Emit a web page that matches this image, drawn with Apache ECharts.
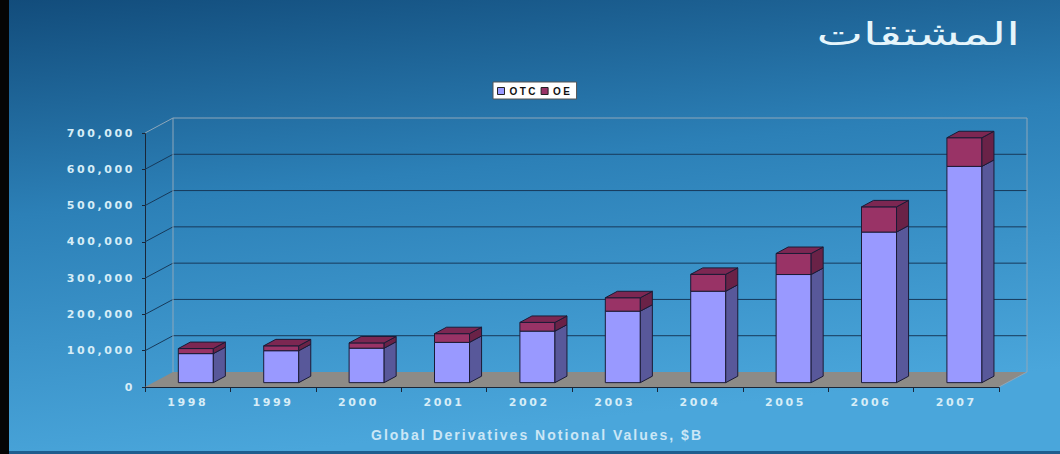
<!DOCTYPE html>
<html>
<head>
<meta charset="utf-8">
<script src="https://cdn.jsdelivr.net/npm/echarts@6/dist/echarts.min.js"></script>
<style>
  html, body { margin: 0; padding: 0; background: #000; }
  #chart { width: 1060px; height: 454px; }
  /* wide, spaced lettering for the Latin labels; the Arabic heading keeps normal spacing */
  #chart text { letter-spacing: 2.6px; }
  #chart text[style*="Helvetica"] { letter-spacing: 2px; }
  #chart text[style*="Geneva"] { letter-spacing: 2.4px; }
  #chart text[style*="Tahoma"] { letter-spacing: 0; }
</style>
</head>
<body>
<div id="chart"></div>
<script>
// Global derivatives notional values, $B
const years = ['1998', '1999', '2000', '2001', '2002', '2003', '2004', '2005', '2006', '2007'];
const otcValues = [80000, 88000, 95000, 111000, 142000, 197000, 252000, 298000, 415000, 596000];
const oeValues = [14000, 13500, 14500, 24000, 24000, 37000, 46500, 58000, 69500, 79000];
const yTicks = [0, 100000, 200000, 300000, 400000, 500000, 600000, 700000];

// oblique depth of the plot box (pixels) and placement of the columns inside it
const DEPTH_X = 28, DEPTH_Y = -15;
const BAR_FRONT = 0.29, BAR_BACK = 0.72, BAR_WIDTH = 0.41;

const LATIN = 'DejaVu Sans, Verdana';

function renderFrame(params, api) {
  const cs = params.coordSys;
  const x0 = cs.x, x1 = cs.x + cs.width;
  const yMin = yTicks[0], yMax = yTicks[yTicks.length - 1];
  const yBase = api.coord([0, yMin])[1];
  const yTop = api.coord([0, yMax])[1];
  const light = '#8ea7ba', dark = '#17395a';
  const ch = [];
  ch.push({ type: 'polygon', shape: { points: [[x0, yBase], [x1, yBase], [x1 + DEPTH_X, yBase + DEPTH_Y], [x0 + DEPTH_X, yBase + DEPTH_Y]] },
            style: { fill: '#8d8b87' } });
  yTicks.forEach(v => {
    if (v === yMin) return;
    const y = api.coord([0, v])[1];
    const stroke = v === yMax ? light : dark;
    ch.push({ type: 'line', shape: { x1: x0, y1: y, x2: x0 + DEPTH_X, y2: y + DEPTH_Y }, style: { stroke, lineWidth: 1 } });
    ch.push({ type: 'line', shape: { x1: x0 + DEPTH_X, y1: y + DEPTH_Y, x2: x1 + DEPTH_X, y2: y + DEPTH_Y }, style: { stroke, lineWidth: 1 } });
  });
  ch.push({ type: 'line', shape: { x1: x0 + DEPTH_X, y1: yBase + DEPTH_Y, x2: x0 + DEPTH_X, y2: yTop + DEPTH_Y }, style: { stroke: light, lineWidth: 1 } });
  ch.push({ type: 'line', shape: { x1: x1 + DEPTH_X, y1: yBase + DEPTH_Y, x2: x1 + DEPTH_X, y2: yTop + DEPTH_Y }, style: { stroke: light, lineWidth: 1 } });
  ch.push({ type: 'line', shape: { x1: x1, y1: yBase, x2: x1 + DEPTH_X, y2: yBase + DEPTH_Y }, style: { stroke: light, lineWidth: 1 } });
  return { type: 'group', children: ch };
}

function column(api, idx, lo, hi, colors, withTop) {
  const pLo = api.coord([idx, lo]);
  const pHi = api.coord([idx, hi]);
  const catW = api.size([1, 0])[0];
  const w = catW * BAR_WIDTH;
  const cx = pLo[0] + DEPTH_X * BAR_FRONT;
  const fy = DEPTH_Y * BAR_FRONT;
  const bx = DEPTH_X * (BAR_BACK - BAR_FRONT), by = DEPTH_Y * (BAR_BACK - BAR_FRONT);
  const xl = cx - w / 2, xr = cx + w / 2;
  const yb = pLo[1] + fy, yt = pHi[1] + fy;
  const edge = '#1b1b36';
  const ch = [
    { type: 'polygon', shape: { points: [[xl, yb], [xr, yb], [xr, yt], [xl, yt]] }, style: { fill: colors[0], stroke: edge, lineWidth: 1 } },
    { type: 'polygon', shape: { points: [[xr, yb], [xr + bx, yb + by], [xr + bx, yt + by], [xr, yt]] }, style: { fill: colors[1], stroke: edge, lineWidth: 1 } }
  ];
  if (withTop) {
    ch.push({ type: 'polygon', shape: { points: [[xl, yt], [xr, yt], [xr + bx, yt + by], [xl + bx, yt + by]] }, style: { fill: colors[2], stroke: edge, lineWidth: 1 } });
  }
  return { type: 'group', children: ch };
}

const OTC_COLORS = ['#9999ff', '#58589a', '#7b7bcf'];
const OE_COLORS = ['#993366', '#6a2247', '#7c2752'];

const chart = echarts.init(document.getElementById('chart'), null, { renderer: 'svg' });
chart.setOption({
  animation: false,
  graphic: [
    { type: 'rect', z: -100, silent: true, shape: { x: 0, y: 0, width: 1060, height: 454 },
      style: { fill: new echarts.graphic.LinearGradient(0, 0, 0.25, 1, [
        { offset: 0, color: '#124c7b' }, { offset: 0.45, color: '#2c80b7' }, { offset: 1, color: '#4aa6db' }]) } },
    { type: 'rect', z: -99, silent: true, shape: { x: 0, y: 0, width: 9, height: 454 }, style: { fill: '#050505' } },
    { type: 'rect', z: -99, silent: true, shape: { x: 9, y: 451, width: 1051, height: 3 }, style: { fill: '#1f5d8e' } },
    // heading, drawn wide like a stretched slide title
    { type: 'text', z: 10, silent: true, x: 1020, y: 34, scaleX: 1.55,
      style: { text: 'المشتقات', x: 0, y: 0, align: 'right', verticalAlign: 'middle',
               fontFamily: 'DejaVu Sans, Tahoma', fontSize: 32, fontWeight: 'normal', fill: '#e6f5fb' } }
  ],
  legend: {
    left: 493, top: 82,
    backgroundColor: '#ffffff', borderColor: '#555555', borderWidth: 1,
    padding: [4, 9, 3, 4], itemGap: 10, itemWidth: 7, itemHeight: 7,
    textStyle: { fontFamily: 'Liberation Sans, Geneva', fontSize: 10, fontWeight: 'bold', color: '#111', lineHeight: 10 },
    data: [
      { name: 'OTC', icon: 'rect', itemStyle: { color: OTC_COLORS[0], borderColor: '#222', borderWidth: 1 } },
      { name: 'OE', icon: 'rect', itemStyle: { color: OE_COLORS[0], borderColor: '#222', borderWidth: 1 } }
    ]
  },
  grid: { left: 145, right: 61, top: 133, bottom: 67, containLabel: false, outerBoundsMode: 'none' },
  xAxis: {
    type: 'category',
    data: years,
    name: 'Global Derivatives Notional Values, $B',
    nameLocation: 'middle',
    nameGap: 41,
    nameTextStyle: { fontFamily: 'Liberation Sans, Helvetica', fontSize: 14, fontWeight: 'bold', color: '#cbe7f6', padding: [0, 70, 0, 0] },
    axisLine: { lineStyle: { color: '#1a2638', width: 1 } },
    axisTick: { show: true, length: 5, interval: 0, lineStyle: { color: '#1a2638' } },
    axisLabel: { interval: 0, margin: 10, fontFamily: LATIN, fontSize: 11, fontWeight: 'bold', color: '#d6edf7' },
    splitLine: { show: false }
  },
  yAxis: {
    type: 'value',
    min: yTicks[0], max: yTicks[yTicks.length - 1], interval: yTicks[1] - yTicks[0],
    axisLine: { show: true, lineStyle: { color: '#1a2638', width: 1 } },
    axisTick: { show: true, length: 3, lineStyle: { color: '#1a2638' } },
    axisLabel: { margin: 10, fontFamily: LATIN, fontSize: 11, fontWeight: 'bold', color: '#d6edf7',
                 formatter: v => v.toLocaleString('en-US') },
    splitLine: { show: false }
  },
  series: [
    { type: 'custom', name: 'frame', z: 1, silent: true, renderItem: renderFrame, data: [[0, 0]] },
    { type: 'custom', name: 'OTC', z: 3, itemStyle: { color: OTC_COLORS[0] },
      data: years.map((y, i) => [i, otcValues[i]]),
      renderItem: (p, api) => column(api, api.value(0), 0, api.value(1), OTC_COLORS, false) },
    { type: 'custom', name: 'OE', z: 4, itemStyle: { color: OE_COLORS[0] },
      encode: { x: 0, y: 2 },
      data: years.map((y, i) => [i, otcValues[i], otcValues[i] + oeValues[i]]),
      renderItem: (p, api) => column(api, api.value(0), api.value(1), api.value(2), OE_COLORS, true) }
  ]
});
</script>
</body>
</html>
